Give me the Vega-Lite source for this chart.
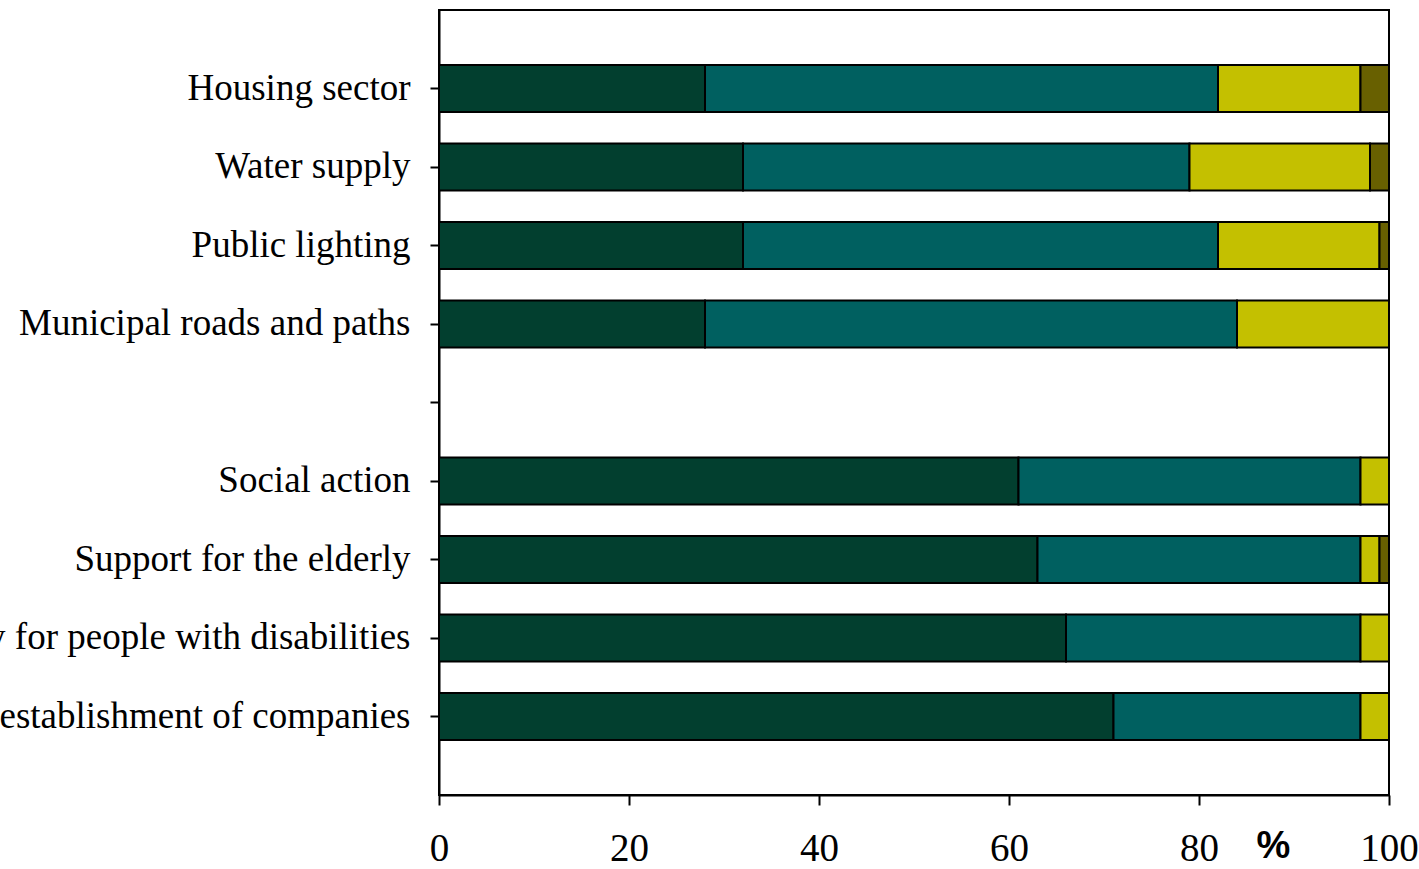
{
  "$schema": "https://vega.github.io/schema/vega-lite/v6.json",
  "width": 950,
  "height": 785,
  "autosize": {"type": "none"},
  "padding": {"left": 439, "top": 10, "right": 30, "bottom": 74},
  "background": "white",
  "config": {
    "view": {"stroke": "black", "strokeWidth": 2},
    "font": "Liberation Serif"
  },
  "data": {
    "values": [
      {"category": "Housing sector", "segment": "a", "k": 1, "value": 28},
      {"category": "Housing sector", "segment": "b", "k": 2, "value": 54},
      {"category": "Housing sector", "segment": "c", "k": 3, "value": 15},
      {"category": "Housing sector", "segment": "d", "k": 4, "value": 3},
      {"category": "Water supply", "segment": "a", "k": 1, "value": 32},
      {"category": "Water supply", "segment": "b", "k": 2, "value": 47},
      {"category": "Water supply", "segment": "c", "k": 3, "value": 19},
      {"category": "Water supply", "segment": "d", "k": 4, "value": 2},
      {"category": "Public lighting", "segment": "a", "k": 1, "value": 32},
      {"category": "Public lighting", "segment": "b", "k": 2, "value": 50},
      {"category": "Public lighting", "segment": "c", "k": 3, "value": 17},
      {"category": "Public lighting", "segment": "d", "k": 4, "value": 1},
      {"category": "Municipal roads and paths", "segment": "a", "k": 1, "value": 28},
      {"category": "Municipal roads and paths", "segment": "b", "k": 2, "value": 56},
      {"category": "Municipal roads and paths", "segment": "c", "k": 3, "value": 16},
      {"category": "Social action", "segment": "a", "k": 1, "value": 61},
      {"category": "Social action", "segment": "b", "k": 2, "value": 36},
      {"category": "Social action", "segment": "c", "k": 3, "value": 3},
      {"category": "Support for the elderly", "segment": "a", "k": 1, "value": 63},
      {"category": "Support for the elderly", "segment": "b", "k": 2, "value": 34},
      {"category": "Support for the elderly", "segment": "c", "k": 3, "value": 2},
      {"category": "Support for the elderly", "segment": "d", "k": 4, "value": 1},
      {"category": "Accessibility for people with disabilities", "segment": "a", "k": 1, "value": 66},
      {"category": "Accessibility for people with disabilities", "segment": "b", "k": 2, "value": 31},
      {"category": "Accessibility for people with disabilities", "segment": "c", "k": 3, "value": 3},
      {"category": "Support for the establishment of companies", "segment": "a", "k": 1, "value": 71},
      {"category": "Support for the establishment of companies", "segment": "b", "k": 2, "value": 26},
      {"category": "Support for the establishment of companies", "segment": "c", "k": 3, "value": 3}
    ]
  },
  "mark": {"type": "bar", "stroke": "black", "strokeWidth": 2},
  "encoding": {
    "y": {
      "field": "category",
      "type": "nominal",
      "scale": {
        "domain": ["Housing sector", "Water supply", "Public lighting", "Municipal roads and paths", "blank", "Social action", "Support for the elderly", "Accessibility for people with disabilities", "Support for the establishment of companies"],
        "paddingInner": 0.4,
        "paddingOuter": 0.7
      },
      "axis": {
        "title": null,
        "labelExpr": "datum.label == 'blank' ? '' : datum.label",
        "labelFont": "Liberation Serif",
        "labelFontSize": 37,
        "labelColor": "black",
        "labelPadding": 20,
        "labelLimit": 0,
        "tickColor": "black",
        "tickWidth": 2,
        "tickSize": 9,
        "domainColor": "black",
        "domainWidth": 2
      }
    },
    "x": {
      "field": "value",
      "type": "quantitative",
      "stack": "zero",
      "scale": {"domain": [0, 100], "nice": false},
      "axis": {
        "values": [0, 20, 40, 60, 80, 100],
        "grid": false,
        "title": "%",
        "titleFont": "Liberation Sans",
        "titleFontWeight": "bold",
        "titleFontSize": 38,
        "titleColor": "black",
        "titleX": 834,
        "titleY": 62,
        "titleAlign": "center",
        "titleBaseline": "alphabetic",
        "labelFont": "Liberation Serif",
        "labelFontSize": 39,
        "labelColor": "black",
        "labelPadding": 24,
        "labelFlush": false,
        "tickColor": "black",
        "tickWidth": 2,
        "tickSize": 10,
        "domainColor": "black",
        "domainWidth": 2
      }
    },
    "color": {
      "field": "segment",
      "type": "nominal",
      "scale": {"domain": ["a", "b", "c", "d"], "range": ["#023f2f", "#006060", "#c4c000", "#686000"]},
      "legend": null
    },
    "order": {"field": "k", "type": "quantitative"}
  }
}
